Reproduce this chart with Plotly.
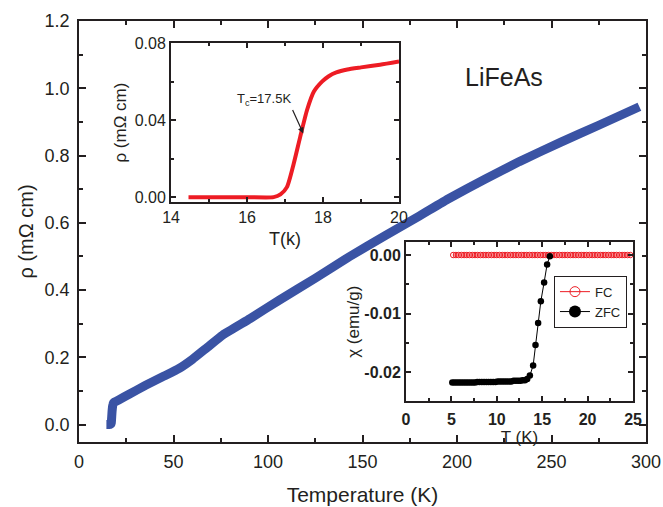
import plotly.graph_objects as go

# ---------------- data ----------------
# main panel: resistivity vs temperature
T_main = [14.5, 15.5, 16.5, 16.9, 17.1, 17.25, 17.4, 17.6, 17.8, 18.0, 18.3, 18.7,
          19.5, 21.0, 26.5, 35.0, 45.0, 53.0, 60.0, 68.0, 76.0, 90.5, 106.0, 125.0,
          143.0, 162.0, 180.0, 196.0, 215.0, 233.0, 255.0, 275.0, 296.5]
rho_main = [0.0, 0.0, 0.0, 0.0014, 0.0052, 0.0175, 0.0314, 0.0454, 0.055, 0.0603, 0.0646, 0.0667,
            0.0685, 0.073, 0.090, 0.116, 0.144, 0.167, 0.194, 0.230, 0.266, 0.315, 0.370, 0.435,
            0.499, 0.562, 0.620, 0.673, 0.730, 0.782, 0.840, 0.890, 0.945]

# inset 1: transition region
T_in = [14.46, 15.0, 16.0, 16.7, 16.88, 17.05, 17.23, 17.4, 17.58, 17.76, 17.98, 18.15,
        18.35, 18.64, 19.0, 19.5, 20.0]
rho_in = [0.0, 0.0, 0.0, 0.0, 0.0014, 0.0052, 0.0175, 0.0314, 0.0454, 0.0550, 0.0603, 0.0630,
          0.0650, 0.0665, 0.0676, 0.0690, 0.0707]

# inset 2: susceptibility
fc_T = [5.2, 5.5, 5.8, 6.1, 6.4, 6.7, 7.0, 7.3, 7.6, 7.9, 8.2, 8.5, 8.8, 9.1, 9.4, 9.7,
        10.0, 10.3, 10.6, 10.9, 11.2, 11.5, 11.8, 12.1, 12.4, 12.7, 13.0, 13.3, 13.6, 13.9,
        14.2, 14.5, 14.8, 15.1, 15.4, 15.7, 16.0, 16.3, 16.6, 16.9, 17.2, 17.5, 17.8, 18.1,
        18.4, 18.7, 19.0, 19.3, 19.6, 19.9, 20.2, 20.5, 20.8, 21.1, 21.4, 21.7, 22.0, 22.3,
        22.6, 22.9, 23.2, 23.5, 23.8, 24.1, 24.4, 24.7]
fc_chi = [0.0, 0.0, 0.0, 0.0, 0.0, 0.0, 0.0, 0.0, 0.0, 0.0, 0.0, 0.0, 0.0, 0.0, 0.0, 0.0,
          0.0, 0.0, 0.0, 0.0, 0.0, 0.0, 0.0, 0.0, 0.0, 0.0, 0.0, 0.0, 0.0, 0.0,
          0.0, 0.0, 0.0, 0.0, 0.0, 0.0, 0.0, 0.0, 0.0, 0.0, 0.0, 0.0, 0.0, 0.0,
          0.0, 0.0, 0.0, 0.0, 0.0, 0.0, 0.0, 0.0, 0.0, 0.0, 0.0, 0.0, 0.0, 0.0,
          0.0, 0.0, 0.0, 0.0, 0.0, 0.0, 0.0, 0.0]

zfc_T = [5.1, 5.35, 5.6, 5.85, 6.1, 6.35, 6.6, 6.85, 7.1, 7.35, 7.6, 7.85, 8.1, 8.35, 8.6,
         8.85, 9.1, 9.35, 9.6, 9.85, 10.1, 10.35, 10.6, 10.85, 11.1, 11.35, 11.6, 11.85,
         12.1, 12.35, 12.6, 12.85, 13.1, 13.35, 13.64, 14.0, 14.26, 14.55, 14.85, 15.21,
         15.54, 15.84]
zfc_chi = [-0.0218, -0.0218, -0.0218, -0.0218, -0.0218, -0.0218, -0.0218, -0.0218, -0.0218,
           -0.0218, -0.0218, -0.0217, -0.0217, -0.0217, -0.0217, -0.0217, -0.0217, -0.0217,
           -0.0217, -0.0217, -0.0216, -0.0216, -0.0216, -0.0216, -0.0216, -0.0216, -0.0216,
           -0.0215, -0.0215, -0.0215, -0.0215, -0.0214, -0.0214, -0.0212, -0.0206, -0.0189,
           -0.0154, -0.0116, -0.0079, -0.0047, -0.0016, -0.0002]

main_xticks = [0, 50, 100, 150, 200, 250, 300]
main_yticks = [0.0, 0.2, 0.4, 0.6, 0.8, 1.0, 1.2]
chi_ticks = [-0.02, -0.01, 0.0]
chi_ticktext = ["-0.02", "-0.01", "0.00"]

# ---------------- style ----------------
BLUE = "#3A53A4"
RED = "#ED1C24"
INK = "#231F20"
FONT = "Arial, Liberation Sans, Helvetica, sans-serif"

fig = go.Figure()

fig.add_trace(go.Scatter(x=T_main, y=rho_main, mode="lines",
                         line=dict(color=BLUE, width=9, shape="spline", smoothing=0.4),
                         xaxis="x", yaxis="y", showlegend=False))

fig.add_trace(go.Scatter(x=T_in, y=rho_in, mode="lines",
                         line=dict(color=RED, width=4, shape="spline", smoothing=0.6),
                         xaxis="x2", yaxis="y2", showlegend=False))

fig.add_trace(go.Scatter(x=fc_T, y=fc_chi, mode="lines+markers",
                         line=dict(color=RED, width=1),
                         marker=dict(symbol="circle-open", size=5.5, color=RED, line=dict(width=1)),
                         xaxis="x3", yaxis="y3", showlegend=False))

fig.add_trace(go.Scatter(x=zfc_T, y=zfc_chi, mode="lines+markers",
                         line=dict(color="black", width=1),
                         marker=dict(symbol="circle", size=6.5, color="black"),
                         xaxis="x3", yaxis="y3", showlegend=False))

# legend entries (same styling, larger legend symbols as in the original)
fig.add_trace(go.Scatter(x=[None], y=[None], mode="lines+markers", name="FC",
                         line=dict(color=RED, width=1),
                         marker=dict(symbol="circle-open", size=10, color=RED, line=dict(width=1)),
                         xaxis="x3", yaxis="y3", showlegend=True))
fig.add_trace(go.Scatter(x=[None], y=[None], mode="lines+markers", name="ZFC",
                         line=dict(color="black", width=1),
                         marker=dict(symbol="circle", size=12, color="black"),
                         xaxis="x3", yaxis="y3", showlegend=True))

common = dict(showgrid=False, zeroline=False, showline=True, linecolor=INK,
              mirror="allticks", ticks="inside", tickcolor=INK, automargin=False)

fig.update_layout(
    width=663, height=507,
    margin=dict(l=79, r=17, t=21, b=65.3),
    paper_bgcolor="white", plot_bgcolor="white",
    font=dict(family=FONT, color=INK),
    xaxis=dict(**common, domain=[0, 1], anchor="y", range=[0, 300],
               tickmode="array", tickvals=main_xticks,
               linewidth=1.5, tickwidth=1.5, ticklen=7, ticklabelstandoff=3,
               minor=dict(dtick=25, tick0=0, ticks="inside", ticklen=4, tickwidth=1.5, tickcolor=INK),
               tickfont=dict(size=18, color=INK),
               title=dict(text="Temperature (K)", font=dict(size=21, color=INK), standoff=16)),
    yaxis=dict(**common, domain=[0, 1], anchor="x", range=[-0.052, 1.2],
               tickmode="array", tickvals=main_yticks, tickformat=".1f",
               linewidth=1.5, tickwidth=1.5, ticklen=7, ticklabelstandoff=4,
               minor=dict(dtick=0.1, tick0=0, ticks="inside", ticklen=4, tickwidth=1.5, tickcolor=INK),
               tickfont=dict(size=18, color=INK),
               title=dict(text="ρ (mΩ cm)", font=dict(size=20, color=INK), standoff=6)),
    xaxis2=dict(**common, domain=[0.1623, 0.5644], anchor="y2", range=[14, 20],
                dtick=2, tick0=14, linewidth=2, tickwidth=1.5, ticklen=5,
                minor=dict(dtick=1, tick0=14, ticks="inside", ticklen=3, tickwidth=1.5, tickcolor=INK),
                tickfont=dict(size=16, color=INK),
                title=dict(text="T(k)", font=dict(size=18, color=INK), standoff=7)),
    yaxis2=dict(**common, domain=[0.5698, 0.9477], anchor="x2", range=[-0.0026, 0.0803],
                dtick=0.04, tick0=0, tickformat=".2f", linewidth=2, tickwidth=1.5, ticklen=5,
                minor=dict(dtick=0.02, tick0=0, ticks="inside", ticklen=3, tickwidth=1.5, tickcolor=INK),
                tickfont=dict(size=16, color=INK),
                title=dict(text="ρ (mΩ cm)", font=dict(size=17, color=INK), standoff=4)),
    xaxis3=dict(**common, domain=[0.5767, 0.9771], anchor="y3", range=[0, 25],
                dtick=5, tick0=0, linewidth=2, tickwidth=1.5, ticklen=5, ticklabelstandoff=3,
                minor=dict(dtick=2.5, tick0=0, ticks="inside", ticklen=3, tickwidth=1.5, tickcolor=INK),
                tickfont=dict(size=16, color=INK, weight="bold"),
                title=dict(text="T (K)", font=dict(size=17, color=INK), standoff=0)),
    yaxis3=dict(**common, domain=[0.0967, 0.4747], anchor="x3", range=[-0.025, 0.0022],
                tickmode="array", tickvals=chi_ticks, ticktext=chi_ticktext,
                linewidth=2, tickwidth=1.5, ticklen=5,
                minor=dict(dtick=0.005, tick0=0, ticks="inside", ticklen=3, tickwidth=1.5, tickcolor=INK),
                tickfont=dict(size=16, color=INK, weight="bold"),
                title=dict(text="χ (emu/g)", font=dict(size=17, color=INK), standoff=0)),
    legend=dict(x=0.8377, y=0.395, xanchor="left", yanchor="top",
                bgcolor="white", bordercolor=INK, borderwidth=1,
                font=dict(size=13, color=INK), itemwidth=30, tracegroupgap=0),
    annotations=[
        dict(text="LiFeAs", xref="paper", yref="paper", x=0.7496, y=0.8669,
             xanchor="center", yanchor="middle", showarrow=False,
             font=dict(size=25, color=INK)),
        dict(text="T<sub>c</sub>=17.5K", xref="x2", yref="y2", x=17.48, y=0.0332,
             axref="x2", ayref="y2", ax=17.2, ay=0.0454,
             xanchor="right", yanchor="bottom",
             showarrow=True, arrowhead=2, arrowsize=1, arrowwidth=1.2, arrowcolor=INK,
             font=dict(size=13, color=INK)),
    ],
)

# remove the browser's default 8px page margin so the 663x507 figure fills the window exactly
fig.write_html("out.html",
               config={"displayModeBar": False},
               post_script="document.body.style.margin='0px';document.body.style.overflow='hidden';")
